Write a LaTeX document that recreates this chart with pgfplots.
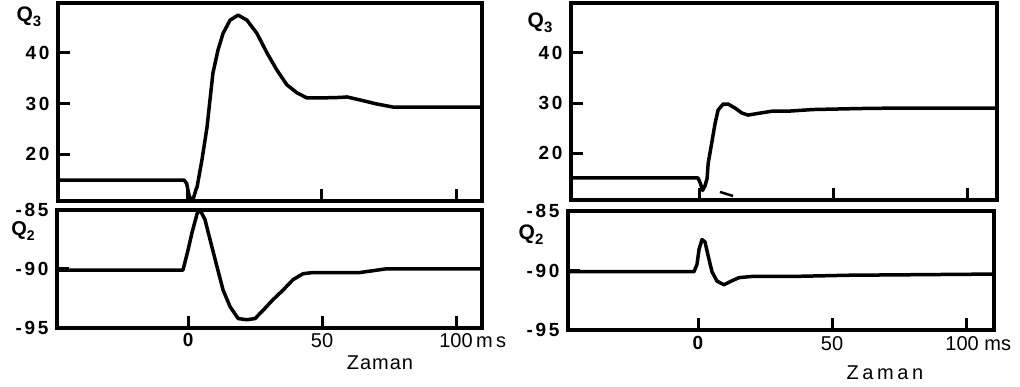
\documentclass[border=0pt]{standalone}
\usepackage{pgfplots}
\pgfplotsset{compat=1.18}
\usepackage{fontspec}
\setmainfont{Liberation Sans}
\newfontfamily\oldf{Liberation Sans}[LetterSpace=14]
\newfontfamily\spacedf{Liberation Sans}[LetterSpace=18]
\newcommand{\lblfont}{\oldf\bfseries\fontsize{19}{19}\selectfont}

\pgfplotsset{
  panel/.style={
    scale only axis, clip=false,
    axis line style={line width=4pt},
    tick align=inside, major tick length=12pt,
    tick style={line width=3pt, black},
    xtick pos=bottom, ytick pos=left,
    xtick={0,50,100},
    yticklabel style={font=\lblfont, xshift=-5pt},
  },
  curve/.style={black, line width=3.5pt, line join=round, line cap=butt, mark=none},
  toppanel/.style={panel, width=424pt, height=198pt, ymin=10.7, ymax=49.9,
    ytick={20,30,40}, yticklabels={20,30,40}, xticklabels={}},
  botpanel/.style={panel, height=118pt, ymin=-95, ymax=-85,
    ytick={-95,-90,-85}, yticklabels={-95,-90,-85}},
}

\begin{document}
\begin{tikzpicture}[x=1pt,y=1pt]
\useasboundingbox (0,0) rectangle (1020,387);

% ---------------- left panel, Q3 ----------------
\begin{axis}[toppanel, at={(58pt,186pt)}, anchor=south west, xmin=-48.5, xmax=109.7]
\addplot[curve] coordinates {
(-48.5,14.85) (-1.5,14.85) (-0.5,14.2) (0.3,12.0) (1.1,10.9) (2.0,11.2) (3.0,13.0)
(3.4,13.5) (5.2,18.8) (7.1,25.3) (8.2,30.7) (9.3,36.0) (11.2,40.6) (13.1,43.9)
(15.7,46.5) (18.7,47.5) (22.0,46.5) (25.7,43.9) (29.5,40.0) (33.2,36.6) (36.9,33.7)
(40.7,32.1) (44.4,31.1) (49.3,31.1) (56.7,31.2) (59.3,31.3) (64.2,30.7) (70.5,29.9)
(76.5,29.3) (109.7,29.3)};
\node[font=\oldf\bfseries\fontsize{21}{21}\selectfont] at (rel axis cs:0,0.93) [xshift=-29pt] {Q\raisebox{-5pt}{\fontsize{15}{15}\selectfont 3}};
\end{axis}

% ---------------- left panel, Q2 ----------------
\begin{axis}[botpanel, width=425pt, at={(57pt,59pt)}, anchor=south west, xmin=-48.9, xmax=109.7,
  xticklabels={{\lblfont 0},{\fontsize{20}{20}\selectfont 50},{\fontsize{20}{20}\selectfont 100\rlap{\,m\,s}}},
  xticklabel style={yshift=-2pt},
  xlabel={\fontsize{20}{20}\selectfont Z\kern1pt a\kern1pt m\kern1pt a\kern1pt n},
  xlabel style={at={(rel axis cs:0.76,0)}, anchor=center, yshift=-35pt}]
\addplot[curve] coordinates {
(-48.9,-90.1) (-1.9,-90.1) (0,-88.4) (1.5,-86.9) (3.4,-85.3) (4.5,-85.0) (6.3,-85.8)
(8.2,-87.5) (10.8,-89.8) (13.1,-91.8) (15.7,-93.2) (18.7,-94.2) (22.0,-94.3) (25.0,-94.2)
(28.0,-93.5) (31.7,-92.6) (35.4,-91.8) (39.2,-90.9) (42.9,-90.4) (46.6,-90.3) (55.6,-90.3)
(64.2,-90.3) (73.5,-90.0) (109.7,-90.0)};
\node[font=\oldf\bfseries\fontsize{20}{20}\selectfont] at (rel axis cs:0,0.82) [xshift=-34pt] {Q\raisebox{-5pt}{\fontsize{14}{14}\selectfont 2}};
\end{axis}

% ---------------- right panel, Q3 ----------------
\begin{axis}[toppanel, width=426pt, at={(571pt,187pt)}, anchor=south west, height=197pt, xmin=-47.8, xmax=111.2]
\addplot[curve] coordinates {
(-47.8,15.1) (-0.4,15.1) (0.5,14.0) (1.3,12.6) (2.2,13.5) (3.0,15.0) (3.4,18.0)
(4.9,22.6) (6.0,26.0) (7.1,28.6) (9.0,29.8) (10.8,29.8) (13.4,29.0) (16.0,28.0)
(18.3,27.6) (22.8,28.0) (27.6,28.4) (34.0,28.4) (42.5,28.7) (60,28.9) (75,29.0) (111.2,29.0)};
\addplot[curve, line width=2.5pt] coordinates {(7.8,12.3) (12.7,11.5)};
\node[font=\oldf\bfseries\fontsize{21}{21}\selectfont] at (rel axis cs:0,0.90) [xshift=-31pt] {Q\raisebox{-5pt}{\fontsize{15}{15}\selectfont 3}};
\end{axis}

% ---------------- right panel, Q2 ----------------
\begin{axis}[botpanel, width=426pt, height=119pt, at={(568pt,57pt)}, anchor=south west, xmin=-48.5, xmax=110.4,
  xticklabels={{\lblfont 0},{\fontsize{20}{20}\selectfont 50},{\fontsize{20}{20}\selectfont\kern-8pt 100\rlap{ ms}}},
  xticklabel style={yshift=-3pt},
  xlabel={\spacedf\fontsize{20}{20}\selectfont Zaman},
  xlabel style={at={(rel axis cs:0.744,0)}, anchor=center, yshift=-43pt}]
\addplot[curve] coordinates {
(-48.5,-90.1) (-1.5,-90.1) (-0.4,-89.5) (0.4,-88.2) (1.5,-87.4) (2.6,-87.6) (3.7,-88.7)
(5.2,-90.1) (7.1,-90.9) (9.7,-91.2) (12.3,-90.9) (15.3,-90.6) (20.1,-90.5) (35.1,-90.5)
(56,-90.4) (110.4,-90.3)};
\node[font=\oldf\bfseries\fontsize{21}{21}\selectfont] at (rel axis cs:0,0.80) [xshift=-37pt] {Q\raisebox{-5pt}{\fontsize{15}{15}\selectfont 2}};
\end{axis}
\end{tikzpicture}
\end{document}
